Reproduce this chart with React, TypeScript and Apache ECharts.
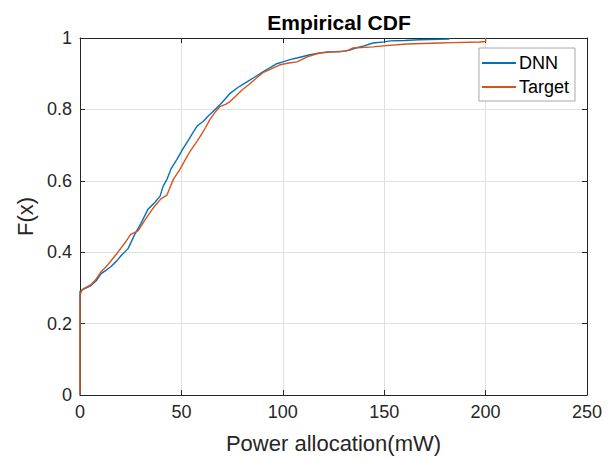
import React, { useEffect, useRef } from "react";
import * as echarts from "echarts";

const xTicks = [0, 50, 100, 150, 200, 250];
const yTicks = [0, 0.2, 0.4, 0.6, 0.8, 1];

const dnnX = [0, 0, 2, 5, 8, 10.4, 13, 15.3, 18, 20.2, 23.7, 27, 30, 33.5, 37, 39.5, 41, 42.9, 45, 47.8, 50.8, 53, 55.7, 58, 60.7, 63, 65.6, 69, 72, 74, 78, 82.3, 86, 90.2, 94, 97, 100, 104, 107, 113.4, 118.3, 122, 128, 133, 136, 140, 144.5, 150, 153, 160, 167, 182, 182];
const dnnF = [0, 0.29, 0.297, 0.305, 0.32, 0.34, 0.35, 0.36, 0.375, 0.39, 0.41, 0.45, 0.48, 0.52, 0.54, 0.557, 0.585, 0.604, 0.635, 0.66, 0.69, 0.71, 0.735, 0.755, 0.766, 0.78, 0.794, 0.813, 0.832, 0.845, 0.862, 0.877, 0.89, 0.905, 0.918, 0.928, 0.933, 0.94, 0.944, 0.953, 0.958, 0.961, 0.961, 0.966, 0.972, 0.978, 0.986, 0.989, 0.992, 0.993, 0.995, 0.997, 1];

const targetX = [0, 0, 1, 5.4, 8, 10.4, 13, 15.3, 18, 20, 22, 25, 28.6, 32, 35, 37, 40, 42.9, 46, 49.3, 52, 54.2, 57, 59.2, 62, 64.1, 67, 69, 72, 74, 77, 80, 83.8, 87, 90, 94, 98.6, 103, 107, 112, 118, 125, 131.6, 134.6, 144.5, 149.5, 161, 177.5, 184, 197, 200, 200];
const targetF = [0, 0.28, 0.295, 0.309, 0.325, 0.345, 0.36, 0.376, 0.395, 0.41, 0.425, 0.45, 0.46, 0.49, 0.515, 0.53, 0.55, 0.56, 0.604, 0.632, 0.66, 0.682, 0.705, 0.724, 0.75, 0.772, 0.795, 0.808, 0.815, 0.822, 0.838, 0.855, 0.872, 0.888, 0.902, 0.913, 0.925, 0.93, 0.933, 0.947, 0.958, 0.961, 0.964, 0.972, 0.975, 0.978, 0.983, 0.986, 0.987, 0.989, 0.99, 1];

const FONT = "'Liberation Sans', Arial, Helvetica, sans-serif";
const TXT = "#262626";

export default function App() {
  const ref = useRef<HTMLDivElement>(null);
  useEffect(() => {
    if (!ref.current) return;
    const chart = echarts.init(ref.current, null, { renderer: "svg" });
    const pairs = (xs: number[], ys: number[]) => xs.map((x, i) => [x, ys[i]]);
    const axisCommon = {
      axisLine: { show: true, onZero: false, lineStyle: { color: TXT, width: 1 } },
      axisTick: { show: true, inside: true, length: 5, lineStyle: { color: TXT } },
    };
    chart.setOption({
      animation: false,
      backgroundColor: "#ffffff",
      title: {
        text: "Empirical CDF",
        left: 334,
        top: 7,
        textAlign: "center",
        textStyle: { fontFamily: FONT, fontSize: 21, fontWeight: "bold", color: "#000" },
      },
      grid: { left: 80, right: 27, top: 38, bottom: 62, containLabel: false },
      legend: {
        orient: "vertical",
        right: 39,
        top: 48,
        padding: [6, 6, 5, 3],
        itemGap: 6,
        itemWidth: 34,
        itemHeight: 2,
        icon: "rect",
        backgroundColor: "#fff",
        borderColor: "#a8a8a8",
        borderWidth: 1,
        borderRadius: 0,
        textStyle: { fontFamily: FONT, fontSize: 18, color: "#000", padding: [0, 0, 0, -2] },
        data: ["DNN", "Target"],
      },
      xAxis: [
        {
          type: "value",
          min: 0,
          max: 250,
          interval: 50,
          name: "Power allocation(mW)",
          nameLocation: "middle",
          nameGap: 37,
          nameTextStyle: { fontFamily: FONT, fontSize: 22, color: TXT },
          axisLabel: { fontFamily: FONT, fontSize: 18, color: TXT, margin: 8 },
          splitLine: { show: true, lineStyle: { color: "#e0e0e0", width: 1 } },
          ...axisCommon,
        },
        {
          type: "value",
          position: "top",
          min: 0,
          max: 250,
          interval: 50,
          axisLabel: { show: false },
          splitLine: { show: false },
          ...axisCommon,
        },
      ],
      yAxis: [
        {
          type: "value",
          min: 0,
          max: 1,
          interval: 0.2,
          name: "F(x)",
          nameLocation: "middle",
          nameGap: 42,
          nameTextStyle: { fontFamily: FONT, fontSize: 22, color: TXT },
          axisLabel: {
            fontFamily: FONT,
            fontSize: 18,
            color: TXT,
            margin: 8,
            formatter: (v: number) => String(Math.round(v * 10) / 10),
          },
          splitLine: { show: true, lineStyle: { color: "#e0e0e0", width: 1 } },
          ...axisCommon,
        },
        {
          type: "value",
          position: "right",
          min: 0,
          max: 1,
          interval: 0.2,
          axisLabel: { show: false },
          splitLine: { show: false },
          ...axisCommon,
        },
      ],
      series: [
        {
          name: "DNN",
          type: "line",
          data: pairs(dnnX, dnnF),
          symbol: "none",
          color: "#0072BD",
          lineStyle: { color: "#0072BD", width: 1.4 },
          clip: true,
        },
        {
          name: "Target",
          type: "line",
          data: pairs(targetX, targetF),
          symbol: "none",
          color: "#D95319",
          lineStyle: { color: "#D95319", width: 1.4 },
          clip: true,
        },
      ],
    });
    return () => chart.dispose();
  }, []);
  return <div ref={ref} style={{ width: 614, height: 459, position: "absolute", left: 0, top: 0 }} />;
}
